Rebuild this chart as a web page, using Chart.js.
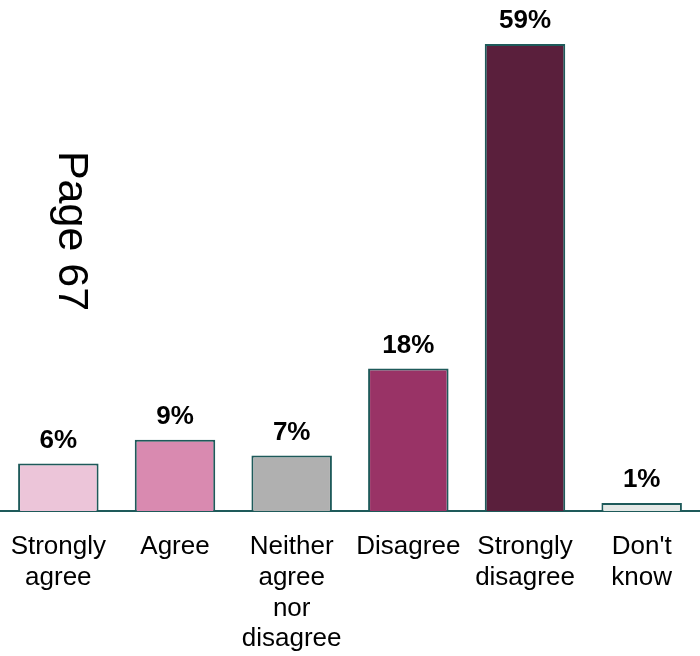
<!DOCTYPE html>
<html>
<head>
<meta charset="utf-8">
<script src="https://cdn.jsdelivr.net/npm/chart.js@4/dist/chart.umd.min.js"></script>
<style>
  html, body { margin: 0; padding: 0; background: #fff; }
  #wrap { width: 700px; height: 656px; }
</style>
</head>
<body>
<div id="wrap"><canvas id="surveyChart"></canvas></div>
<script>
var categories = [
    ["Strongly", "agree"],
    ["Agree"],
    ["Neither", "agree", "nor", "disagree"],
    ["Disagree"],
    ["Strongly", "disagree"],
    ["Don't", "know"]
];
var percentages = [6, 9, 7, 18, 59, 1];
var barColours = ["#ECC5D9", "#D98AB0", "#B0B0B0", "#993366", "#5A1F3C", "#E4E8E6"];
var pageNote = "Page 67";

var FONT = "'Liberation Sans', Arial, sans-serif";
var TEAL = "#1E5A5A";

// value labels sitting above each bar
var valueLabels = {
    id: 'valueLabels',
    afterDatasetsDraw: function (chart) {
        var ctx = chart.ctx;
        var meta = chart.getDatasetMeta(0);
        ctx.save();
        ctx.font = "bold 26px " + FONT;
        ctx.fillStyle = "#000";
        ctx.textAlign = "center";
        ctx.textBaseline = "middle";
        meta.data.forEach(function (bar, i) {
            ctx.fillText(percentages[i] + "%", bar.x, bar.y - 23);
        });
        ctx.restore();
    }
};

// rotated page reference on the left
var pageText = {
    id: 'pageText',
    afterDraw: function (chart) {
        var ctx = chart.ctx;
        ctx.save();
        ctx.translate(71, 231);
        ctx.rotate(Math.PI / 2);
        ctx.font = "43px " + FONT;
        ctx.fillStyle = "#000";
        ctx.textAlign = "center";
        ctx.textBaseline = "middle";
        ctx.fillText(pageNote, 0, 0);
        ctx.restore();
    }
};

var ctx1 = document.getElementById("surveyChart");
var myChart = new Chart(ctx1, {
    type: 'bar',
    data: {
        labels: categories,
        datasets: [{
            data: percentages,
            backgroundColor: barColours,
            borderColor: TEAL,
            borderWidth: 2,
            borderSkipped: 'bottom',
            barPercentage: 0.69,
            categoryPercentage: 1
        }]
    },
    options: {
        responsive: true,
        maintainAspectRatio: false,
        animation: false,
        layout: {
            padding: { top: 36, left: 0, right: 0, bottom: 0 }
        },
        plugins: {
            legend: { display: false },
            tooltip: { enabled: false }
        },
        scales: {
            x: {
                grid: { display: false, drawTicks: false },
                border: { display: true, color: TEAL, width: 2 },
                ticks: {
                    color: "#000",
                    font: { family: FONT, size: 26, lineHeight: 1.19 },
                    padding: 20,
                    autoSkip: false,
                    maxRotation: 0
                },
                afterFit: function (scale) {
                    scale.height = 145;
                    scale.paddingLeft = 0;
                    scale.paddingRight = 0;
                }
            },
            y: {
                display: false,
                min: 0,
                max: 60
            }
        }
    },
    plugins: [valueLabels, pageText]
});
</script>
</body>
</html>
